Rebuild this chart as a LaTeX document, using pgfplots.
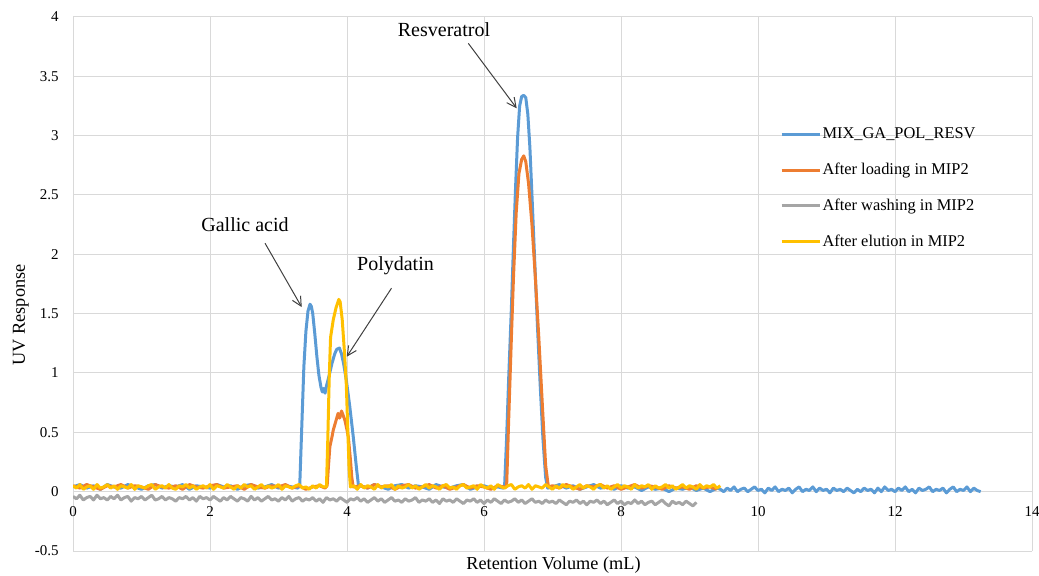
\documentclass[border=0pt]{standalone}
\usepackage{fontspec}
\setmainfont{Liberation Serif}
\usepackage{pgfplots}
\pgfplotsset{compat=1.18}
\usetikzlibrary{arrows.meta}
\definecolor{cblue}{HTML}{5B9BD5}
\definecolor{corange}{HTML}{ED7D31}
\definecolor{cgray}{HTML}{A5A5A5}
\definecolor{cyellow}{HTML}{FFC000}
\definecolor{gridc}{HTML}{D9D9D9}
\definecolor{arrowc}{HTML}{404040}
\begin{document}
\begin{tikzpicture}
\path[use as bounding box] (0,0) rectangle (779.25pt,431.25pt);
\begin{axis}[
  at={(54.75pt,18pt)}, anchor=south west,
  width=719.25pt, height=400.5pt, scale only axis,
  xmin=0, xmax=14, ymin=-0.5, ymax=4,
  xtick={0,2,4,6,8,10,12,14},
  ytick={-0.5,0,0.5,1,1.5,2,2.5,3,3.5,4},
  grid=major, major grid style={draw=gridc, line width=0.75pt},
  axis x line=middle, axis y line=left,
  axis line style={-, draw=gridc, line width=0.75pt},
  hide obscured x ticks=false, hide obscured y ticks=false,
  major tick length=0pt, tick style={draw=none},
  tick label style={font=\fontsize{11.25}{13}\selectfont, /pgf/number format/assume math mode=true},
  xticklabel style={anchor=center, inner sep=0pt, yshift=-15pt},
  yticklabel style={anchor=east, inner sep=0pt, xshift=-10.5pt},
  xlabel={Retention Volume (mL)}, ylabel={UV Response},
  every axis x label/.style={at={(axis description cs:0.501,-0.026)}, anchor=center, font=\fontsize{13.7}{16}\selectfont},
  every axis y label/.style={at={(axis description cs:-0.0543,0.442)}, anchor=center, rotate=90, font=\fontsize{13.7}{16}\selectfont},
  legend style={at={(axis cs:10.32,2.556)}, anchor=west, draw=none, fill=none, inner sep=0pt, row sep=14.8pt, font=\fontsize{12.3}{14}\selectfont, nodes={inner sep=1pt}},
  legend cell align=left,
  legend image code/.code={\draw[#1, line width=2.25pt] (0pt,0pt) -- (28.5pt,0pt);},
  every axis plot/.append style={line width=2.25pt, line join=round},
]
% Blue: MIX_GA_POL_RESV
\addplot[cblue] coordinates {
(0.0,0.04)(0.1,0.06)(0.2,0.03)(0.3,0.05)(0.4,0.02)(0.5,0.06)(0.6,0.04)(0.7,0.03)(0.8,0.06)(0.9,0.04)
(1.0,0.02)(1.1,0.05)(1.2,0.06)(1.3,0.03)(1.4,0.05)(1.5,0.04)(1.6,0.06)(1.7,0.02)(1.8,0.05)(1.9,0.04)
(2.0,0.03)(2.1,0.06)(2.2,0.04)(2.3,0.05)(2.4,0.02)(2.5,0.05)(2.6,0.06)(2.7,0.03)(2.8,0.04)(2.9,0.06)
(3.0,0.03)(3.1,0.05)(3.2,0.04)(3.28,0.03)
(3.31,0.05)(3.34,0.55)(3.37,1.05)(3.40,1.35)(3.43,1.52)(3.46,1.58)(3.48,1.56)(3.50,1.50)(3.53,1.33)
(3.56,1.14)(3.59,0.98)(3.62,0.88)(3.64,0.84)(3.66,0.87)(3.68,0.83)(3.70,0.89)(3.74,0.98)(3.78,1.08)
(3.82,1.16)(3.85,1.20)(3.89,1.21)(3.92,1.16)(3.95,1.08)(3.99,0.94)(4.04,0.72)(4.09,0.47)(4.14,0.19)(4.17,0.04)
(4.2,0.05)(4.3,0.03)(4.4,0.06)(4.5,0.04)(4.6,0.02)(4.7,0.05)(4.8,0.06)(4.9,0.03)(5.0,0.05)(5.1,0.04)
(5.2,0.02)(5.3,0.06)(5.4,0.04)(5.5,0.03)(5.6,0.05)(5.7,0.06)(5.8,0.02)(5.9,0.04)(6.0,0.05)(6.1,0.03)
(6.2,0.04)(6.28,0.03)
(6.30,0.04)(6.33,0.45)(6.36,0.95)(6.40,1.55)(6.43,2.07)(6.46,2.55)(6.49,2.98)(6.52,3.25)(6.55,3.33)
(6.58,3.34)(6.61,3.32)(6.64,3.18)(6.67,2.90)(6.70,2.50)(6.74,1.95)(6.78,1.40)(6.82,0.90)(6.86,0.45)
(6.90,0.12)(6.93,0.03)
(7.0,0.04)(7.1,0.06)(7.2,0.03)(7.3,0.05)(7.4,0.02)(7.5,0.04)(7.6,0.06)(7.7,0.03)(7.8,0.04)(7.9,0.02)
(8.0,0.05)(8.1,0.03)(8.2,0.04)(8.3,0.01)(8.4,0.04)(8.5,0.02)(8.6,0.03)(8.7,0.00)(8.8,0.03)(8.9,0.02)
(9.0,0.04)(9.1,0.01)(9.2,0.03)(9.3,0.00)(9.4,0.03)
(9.45,0.02)(9.50,0.00)(9.55,0.03)(9.60,0.01)(9.65,0.04)(9.70,0.00)(9.75,0.02)(9.80,0.03)(9.85,0.00)(9.90,0.02)
(9.95,0.04)(10.00,0.01)(10.05,0.02)(10.10,-0.01)(10.15,0.03)(10.20,0.01)(10.25,0.04)(10.30,0.00)(10.35,0.02)(10.40,0.01)
(10.45,0.03)(10.50,-0.01)(10.55,0.02)(10.60,0.04)(10.65,0.00)(10.70,0.02)(10.75,0.01)(10.80,0.04)(10.85,0.00)(10.90,0.03)
(10.95,0.01)(11.00,0.02)(11.05,-0.01)(11.10,0.03)(11.15,0.01)(11.20,0.02)(11.25,0.00)(11.30,0.03)(11.35,0.01)(11.40,-0.01)
(11.45,0.02)(11.50,0.00)(11.55,0.03)(11.60,0.01)(11.65,0.02)(11.70,-0.01)(11.75,0.03)(11.80,0.00)(11.85,0.04)(11.90,0.01)
(11.95,0.02)(12.00,0.00)(12.05,0.03)(12.10,0.01)(12.15,0.04)(12.20,0.00)(12.25,0.02)(12.30,-0.01)(12.35,0.03)(12.40,0.01)
(12.45,0.02)(12.50,0.04)(12.55,0.00)(12.60,0.02)(12.65,0.01)(12.70,0.03)(12.75,-0.01)(12.80,0.02)(12.85,0.04)(12.90,0.00)
(12.95,0.02)(13.00,0.01)(13.05,0.04)(13.10,0.00)(13.15,0.03)(13.20,0.01)(13.25,0.00)
};
\addlegendentry{MIX\_GA\_POL\_RESV}
% Orange: After loading in MIP2
\addplot[corange] coordinates {
(0.0,0.05)(0.1,0.03)(0.2,0.06)(0.3,0.04)(0.4,0.02)(0.5,0.05)(0.6,0.04)(0.7,0.06)(0.8,0.03)(0.9,0.05)
(1.0,0.04)(1.1,0.02)(1.2,0.06)(1.3,0.04)(1.4,0.03)(1.5,0.05)(1.6,0.02)(1.7,0.06)(1.8,0.04)(1.9,0.03)
(2.0,0.05)(2.1,0.06)(2.2,0.03)(2.3,0.04)(2.4,0.05)(2.5,0.02)(2.6,0.06)(2.7,0.04)(2.8,0.03)(2.9,0.05)
(3.0,0.04)(3.1,0.06)(3.2,0.03)(3.3,0.05)(3.4,0.02)(3.5,0.04)(3.6,0.05)(3.68,0.03)
(3.71,0.05)(3.73,0.22)(3.75,0.38)(3.78,0.46)(3.80,0.52)(3.83,0.58)(3.85,0.62)(3.87,0.66)(3.89,0.62)
(3.90,0.63)(3.92,0.68)(3.94,0.65)(3.97,0.60)(4.00,0.52)(4.02,0.46)(4.05,0.27)(4.07,0.12)(4.09,0.04)
(4.2,0.05)(4.3,0.03)(4.4,0.06)(4.5,0.04)(4.6,0.05)(4.7,0.02)(4.8,0.05)(4.9,0.06)(5.0,0.03)(5.1,0.04)
(5.2,0.06)(5.3,0.03)(5.4,0.05)(5.5,0.02)(5.6,0.04)(5.7,0.06)(5.8,0.03)(5.9,0.05)(6.0,0.04)(6.1,0.02)
(6.2,0.05)(6.3,0.04)
(6.33,0.04)(6.36,0.60)(6.40,1.30)(6.43,1.80)(6.47,2.35)(6.51,2.68)(6.55,2.80)(6.58,2.83)(6.61,2.78)
(6.65,2.60)(6.70,2.25)(6.75,1.80)(6.80,1.30)(6.85,0.75)(6.90,0.22)(6.94,0.04)
(7.0,0.05)(7.1,0.03)(7.2,0.06)(7.3,0.04)(7.4,0.02)(7.5,0.05)(7.6,0.04)(7.7,0.06)(7.8,0.03)(7.9,0.05)
(8.0,0.02)(8.1,0.04)(8.2,0.06)(8.3,0.03)(8.4,0.05)(8.5,0.04)(8.6,0.02)(8.7,0.05)(8.8,0.03)(8.9,0.04)
(9.0,0.02)(9.1,0.05)(9.2,0.03)(9.3,0.04)(9.4,0.02)
};
\addlegendentry{After loading in MIP2}
% Gray: After washing in MIP2
\addplot[cgray] coordinates {
(0.00,-0.04)(0.05,-0.06)(0.10,-0.03)(0.15,-0.07)(0.20,-0.05)(0.25,-0.04)(0.30,-0.07)(0.35,-0.03)(0.40,-0.06)(0.45,-0.05)
(0.50,-0.07)(0.55,-0.04)(0.60,-0.06)(0.65,-0.03)(0.70,-0.07)(0.75,-0.05)(0.80,-0.04)(0.85,-0.08)(0.90,-0.05)(0.95,-0.06)
(1.00,-0.04)(1.05,-0.07)(1.10,-0.05)(1.15,-0.03)(1.20,-0.07)(1.25,-0.06)(1.30,-0.04)(1.35,-0.07)(1.40,-0.05)(1.45,-0.06)
(1.50,-0.08)(1.55,-0.05)(1.60,-0.06)(1.65,-0.04)(1.70,-0.07)(1.75,-0.05)(1.80,-0.08)(1.85,-0.04)(1.90,-0.06)(1.95,-0.05)
(2.00,-0.07)(2.05,-0.04)(2.10,-0.06)(2.15,-0.08)(2.20,-0.05)(2.25,-0.07)(2.30,-0.04)(2.35,-0.06)(2.40,-0.08)(2.45,-0.05)
(2.50,-0.06)(2.55,-0.08)(2.60,-0.04)(2.65,-0.07)(2.70,-0.05)(2.75,-0.08)(2.80,-0.06)(2.85,-0.04)(2.90,-0.07)(2.95,-0.06)
(3.00,-0.08)(3.05,-0.05)(3.10,-0.07)(3.15,-0.04)(3.20,-0.08)(3.25,-0.06)(3.30,-0.05)(3.35,-0.08)(3.40,-0.06)(3.45,-0.07)
(3.50,-0.05)(3.55,-0.08)(3.60,-0.06)(3.65,-0.09)(3.70,-0.05)(3.75,-0.07)(3.80,-0.06)(3.85,-0.08)(3.90,-0.05)(3.95,-0.07)
(4.00,-0.09)(4.05,-0.06)(4.10,-0.07)(4.15,-0.05)(4.20,-0.08)(4.25,-0.06)(4.30,-0.09)(4.35,-0.07)(4.40,-0.05)(4.45,-0.08)
(4.50,-0.06)(4.55,-0.09)(4.60,-0.07)(4.65,-0.05)(4.70,-0.08)(4.75,-0.07)(4.80,-0.09)(4.85,-0.06)(4.90,-0.08)(4.95,-0.07)
(5.00,-0.05)(5.05,-0.09)(5.10,-0.07)(5.15,-0.08)(5.20,-0.06)(5.25,-0.09)(5.30,-0.07)(5.35,-0.10)(5.40,-0.06)(5.45,-0.08)
(5.50,-0.07)(5.55,-0.09)(5.60,-0.06)(5.65,-0.08)(5.70,-0.10)(5.75,-0.07)(5.80,-0.08)(5.85,-0.06)(5.90,-0.09)(5.95,-0.07)
(6.00,-0.10)(6.05,-0.07)(6.10,-0.09)(6.15,-0.06)(6.20,-0.08)(6.25,-0.10)(6.30,-0.07)(6.35,-0.09)(6.40,-0.08)(6.45,-0.06)
(6.50,-0.09)(6.55,-0.07)(6.60,-0.10)(6.65,-0.08)(6.70,-0.06)(6.75,-0.09)(6.80,-0.08)(6.85,-0.10)(6.90,-0.07)(6.95,-0.09)
(7.00,-0.08)(7.05,-0.10)(7.10,-0.07)(7.15,-0.09)(7.20,-0.11)(7.25,-0.08)(7.30,-0.09)(7.35,-0.07)(7.40,-0.10)(7.45,-0.08)
(7.50,-0.11)(7.55,-0.08)(7.60,-0.09)(7.65,-0.07)(7.70,-0.10)(7.75,-0.08)(7.80,-0.11)(7.85,-0.09)(7.90,-0.07)(7.95,-0.10)
(8.00,-0.08)(8.05,-0.11)(8.10,-0.09)(8.15,-0.10)(8.20,-0.07)(8.25,-0.10)(8.30,-0.08)(8.35,-0.11)(8.40,-0.09)(8.45,-0.08)
(8.50,-0.11)(8.55,-0.09)(8.60,-0.07)(8.65,-0.10)(8.70,-0.12)(8.75,-0.08)(8.80,-0.10)(8.85,-0.09)(8.90,-0.11)(8.95,-0.08)
(9.00,-0.10)(9.05,-0.12)(9.10,-0.09)
};
\addlegendentry{After washing in MIP2}
% Yellow: After elution in MIP2
\addplot[cyellow] coordinates {
(0.00,0.05)(0.05,0.03)(0.10,0.06)(0.15,0.02)(0.20,0.04)(0.25,0.05)(0.30,0.02)(0.35,0.06)(0.40,0.03)(0.45,0.04)
(0.50,0.06)(0.55,0.03)(0.60,0.05)(0.65,0.02)(0.70,0.05)(0.75,0.04)(0.80,0.03)(0.85,0.06)(0.90,0.02)(0.95,0.05)
(1.00,0.04)(1.05,0.03)(1.10,0.05)(1.15,0.06)(1.20,0.02)(1.25,0.04)(1.30,0.05)(1.35,0.03)(1.40,0.06)(1.45,0.03)
(1.50,0.02)(1.55,0.05)(1.60,0.04)(1.65,0.06)(1.70,0.03)(1.75,0.05)(1.80,0.02)(1.85,0.04)(1.90,0.05)(1.95,0.03)
(2.00,0.06)(2.05,0.02)(2.10,0.05)(2.15,0.04)(2.20,0.03)(2.25,0.06)(2.30,0.04)(2.35,0.02)(2.40,0.05)(2.45,0.03)
(2.50,0.06)(2.55,0.04)(2.60,0.05)(2.65,0.02)(2.70,0.04)(2.75,0.06)(2.80,0.03)(2.85,0.05)(2.90,0.03)(2.95,0.04)
(3.00,0.06)(3.05,0.02)(3.10,0.05)(3.15,0.04)(3.20,0.03)(3.25,0.05)(3.30,0.06)(3.35,0.03)(3.40,0.04)(3.45,0.02)
(3.50,0.05)(3.55,0.03)(3.60,0.06)(3.65,0.04)
(3.70,0.04)(3.72,0.45)(3.74,0.95)(3.76,1.30)(3.80,1.45)(3.84,1.55)(3.88,1.62)(3.90,1.60)(3.93,1.45)
(3.96,1.20)(3.99,0.90)(4.01,0.55)(4.03,0.20)(4.05,0.04)
(4.10,0.05)(4.15,0.02)(4.20,0.06)(4.25,0.03)(4.30,0.05)(4.35,0.04)(4.40,0.02)(4.45,0.06)(4.50,0.03)(4.55,0.05)
(4.60,0.04)(4.65,0.06)(4.70,0.02)(4.75,0.05)(4.80,0.03)(4.85,0.04)(4.90,0.06)(4.95,0.03)(5.00,0.05)(5.05,0.02)
(5.10,0.04)(5.15,0.06)(5.20,0.03)(5.25,0.05)(5.30,0.04)(5.35,0.02)(5.40,0.05)(5.45,0.06)(5.50,0.03)(5.55,0.04)
(5.60,0.02)(5.65,0.05)(5.70,0.06)(5.75,0.03)(5.80,0.04)(5.85,0.05)(5.90,0.02)(5.95,0.06)(6.00,0.04)(6.05,0.03)
(6.10,0.05)(6.15,0.02)(6.20,0.06)(6.25,0.04)(6.30,0.03)(6.35,0.05)(6.40,0.06)(6.45,0.02)(6.50,0.04)(6.55,0.05)
(6.60,0.03)(6.65,0.06)(6.70,0.02)(6.75,0.05)(6.80,0.04)(6.85,0.03)(6.90,0.06)(6.95,0.04)(7.00,0.02)(7.05,0.05)
(7.10,0.03)(7.15,0.06)(7.20,0.04)(7.25,0.05)(7.30,0.02)(7.35,0.04)(7.40,0.06)(7.45,0.03)(7.50,0.05)(7.55,0.04)
(7.60,0.02)(7.65,0.05)(7.70,0.06)(7.75,0.03)(7.80,0.05)(7.85,0.02)(7.90,0.04)(7.95,0.06)(8.00,0.03)(8.05,0.05)
(8.10,0.04)(8.15,0.02)(8.20,0.06)(8.25,0.03)(8.30,0.05)(8.35,0.04)(8.40,0.06)(8.45,0.02)(8.50,0.05)(8.55,0.03)
(8.60,0.04)(8.65,0.06)(8.70,0.03)(8.75,0.05)(8.80,0.02)(8.85,0.04)(8.90,0.06)(8.95,0.03)(9.00,0.05)(9.05,0.04)
(9.10,0.02)(9.15,0.06)(9.20,0.03)(9.25,0.05)(9.30,0.04)(9.35,0.06)(9.40,0.03)(9.45,0.05)
};
\addlegendentry{After elution in MIP2}
% annotations
\draw[arrowc, line width=0.75pt, -{Straight Barb[length=7pt,width=7pt]}] (axis cs:5.771,3.778) -- (axis cs:6.477,3.231);
\node[font=\fontsize{15}{18}\selectfont, anchor=base, inner sep=0pt] at (axis cs:5.416,3.836) {Resveratrol};
\draw[arrowc, line width=0.75pt, -{Straight Barb[length=7pt,width=7pt]}] (axis cs:2.803,2.094) -- (axis cs:3.339,1.555);
\node[font=\fontsize{15}{18}\selectfont, anchor=base, inner sep=0pt] at (axis cs:2.511,2.192) {Gallic acid};
\draw[arrowc, line width=0.75pt, -{Straight Barb[length=7pt,width=7pt]}] (axis cs:4.65,1.715) -- (axis cs:3.996,1.137);
\node[font=\fontsize{15}{18}\selectfont, anchor=base, inner sep=0pt] at (axis cs:4.708,1.864) {Polydatin};
\end{axis}
\end{tikzpicture}
\end{document}
